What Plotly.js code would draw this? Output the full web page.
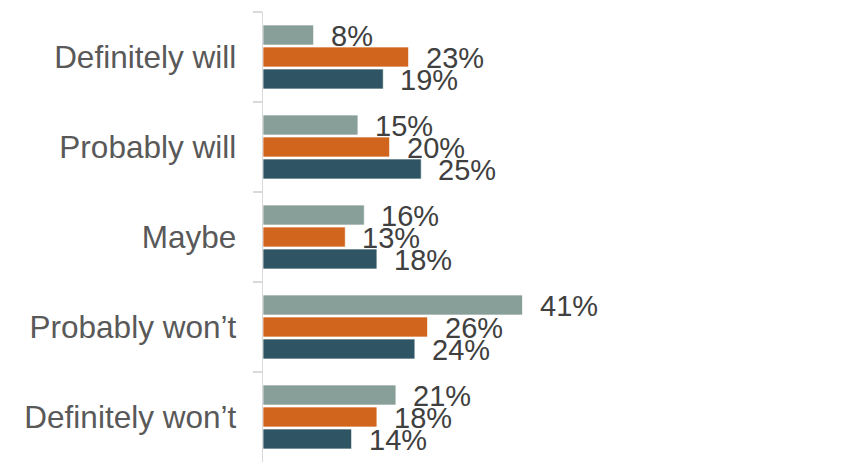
<!DOCTYPE html>
<html>
<head>
<meta charset="utf-8">
<script src="https://cdn.plot.ly/plotly-3.0.1.min.js"></script>
<style>html,body{margin:0;padding:0;background:#fff;}#chart{width:858px;height:462px;}</style>
</head>
<body>
<div id="chart"></div>
<script>
const categories = ["Definitely will", "Probably will", "Maybe", "Probably won\u2019t", "Definitely won\u2019t"];
const seriesA = [8, 15, 16, 41, 21];   // gray-green
const seriesB = [23, 20, 13, 26, 18];  // orange
const seriesC = [19, 25, 18, 24, 14];  // dark teal
const seriesList = [seriesA, seriesB, seriesC];
const colors = ["#879E99", "#D2651E", "#2F5564"];

const traces = seriesList.map((vals, i) => ({
  type: "bar",
  orientation: "h",
  y: categories,
  x: vals,
  marker: {color: colors[i], line: {color: "rgba(255,255,255,0.7)", width: 1}},
  hoverinfo: "none"
}));

// value labels, offset per bar within the group
const pitch = 22;
const annotations = [];
seriesList.forEach((vals, i) => {
  vals.forEach((v, j) => {
    annotations.push({
      x: v, y: categories[j], xref: "x", yref: "y",
      text: v + "%", showarrow: false,
      xanchor: "left", yanchor: "middle",
      xshift: 15, yshift: (1 - i) * pitch - 1,
      font: {family: "Liberation Sans, Arial, sans-serif", size: 29, color: "#404040"}
    });
  });
});

const layout = {
  width: 858, height: 462,
  margin: {l: 263, r: 0, t: 12, b: 0},
  paper_bgcolor: "#fff", plot_bgcolor: "#fff",
  showlegend: false,
  barmode: "group",
  bargap: 0.267,
  bargroupgap: 0.09,
  xaxis: {range: [0, 94], visible: false, showgrid: false, zeroline: false, fixedrange: true},
  yaxis: {
    type: "category", autorange: "reversed",
    showline: true, linecolor: "#D9D9D9", linewidth: 1.5,
    ticks: "outside", ticklen: 9, tickcolor: "#D9D9D9", tickwidth: 1.5,
    tickson: "boundaries", showgrid: false, zeroline: false,
    ticklabelstandoff: 19,
    tickfont: {family: "Liberation Sans, Arial, sans-serif", size: 31.5, color: "#595959"}
  },
  annotations: annotations,
  font: {family: "Liberation Sans, Arial, sans-serif"}
};

Plotly.newPlot("chart", traces, layout, {staticPlot: true, displayModeBar: false});
</script>
</body>
</html>
